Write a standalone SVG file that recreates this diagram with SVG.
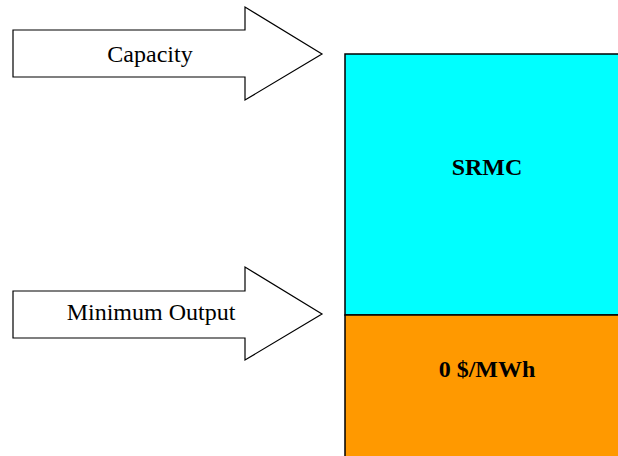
<svg xmlns="http://www.w3.org/2000/svg" width="618" height="456" viewBox="0 0 618 456">
<style>
.arrow{fill:#fff;stroke:#000;stroke-width:1.2}
.box{stroke:#000;stroke-width:1.5}
.lbl{font-family:"Liberation Serif","Times New Roman",serif;font-size:24px;fill:#000;text-anchor:middle}
.bold{font-weight:bold}
</style>
<rect width="618" height="456" fill="#fff"/>
<g id="capacity-arrow">
<polygon class="arrow" points="13,30 245,30 245,7 322,54 245,100 245,77 13,77"/>
<text class="lbl" x="150" y="62">Capacity</text>
</g>
<g id="minimum-output-arrow">
<polygon class="arrow" points="13,291 245,291 245,267 322,314 245,360 245,338 13,338"/>
<text class="lbl" x="151" y="320">Minimum Output</text>
</g>
<g id="srmc">
<rect class="box" x="345" y="54" width="280" height="261" fill="#00ffff"/>
<text class="lbl bold" x="487" y="175">SRMC</text>
</g>
<g id="zero-cost">
<rect class="box" x="345" y="315" width="280" height="150" fill="#ff9900"/>
<text class="lbl bold" x="487" y="377">0 $/MWh</text>
</g>
<g id="connectors"/>
</svg>
